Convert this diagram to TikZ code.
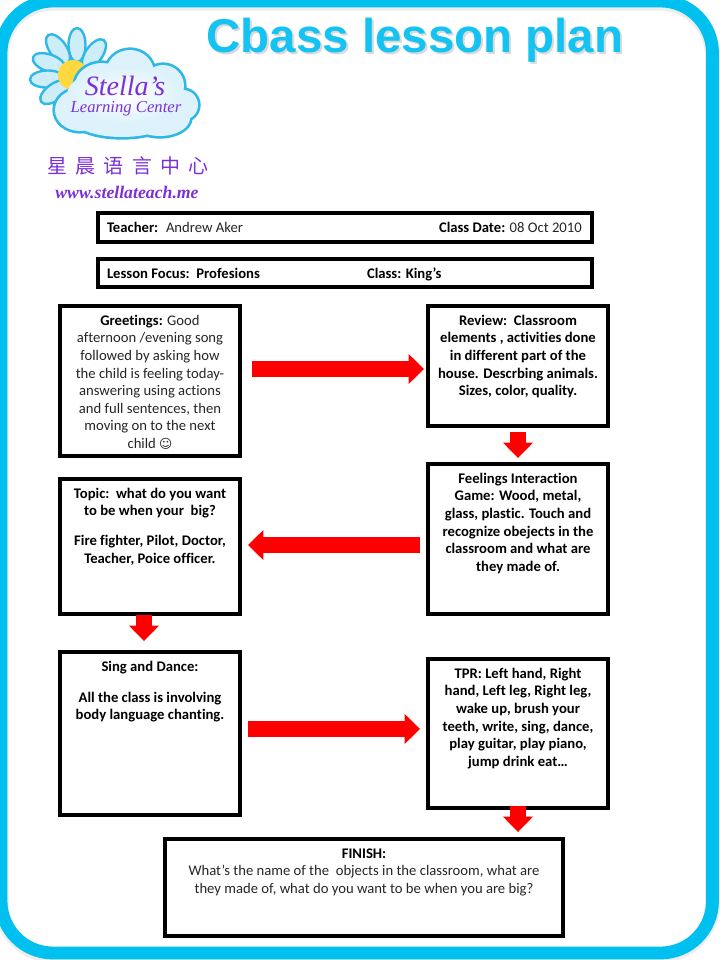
\documentclass[tikz,border=0pt]{standalone}
\usepackage{fontspec}
\setmainfont[Ligatures=NoCommon]{Carlito}
\newfontfamily\titlefont{Liberation Sans}
\newfontfamily\logofont{Liberation Serif}
\newfontfamily\cjkfont{Noto Sans CJK SC}
\newfontfamily\symfont{DejaVu Sans}
\usetikzlibrary{arrows.meta}
\definecolor{frameblue}{HTML}{00C0F0}
\definecolor{titleblue}{HTML}{14C3F2}
\definecolor{logoblue}{HTML}{2FB8E6}
\definecolor{cloudfill}{HTML}{DDF2FB}
\definecolor{petalfill}{HTML}{CDEEF9}
\definecolor{sunyellow}{HTML}{FFD840}
\definecolor{logopurple}{HTML}{7B30D8}
\definecolor{bodytext}{HTML}{262626}
\definecolor{arrowred}{HTML}{FF0000}
\tikzset{
  boxnode/.style={draw=black,fill=white,line width=3pt,inner sep=0pt,outer sep=0pt,text=bodytext},
  flowarrow/.style={draw=arrowred,line width=12pt,-{Triangle[length=11.5pt,width=22.5pt,line width=0pt,fill=arrowred]}},
  petal/.style={draw=logoblue,fill=petalfill,line width=1.8pt},
  cloudedge/.style={draw=logoblue,fill=logoblue,line width=4pt},
  cloudin/.style={fill=cloudfill},
}
\newcommand{\tbox}[6]{%
  \pgfmathsetmacro\cxx{(#2+#4)/2}%
  \pgfmathsetmacro\cyy{(#3+#5)/2}%
  \pgfmathsetmacro\wdd{(#4-#2-4)*0.75}%
  \pgfmathsetmacro\htt{(#5-#3-4)*0.75}%
  \node[boxnode,minimum width=\wdd pt,minimum height=\htt pt] (#1) at (\cxx,\cyy)
    {\parbox[c][\htt pt][t]{\wdd pt}{\fontsize{11}{13.2}\selectfont\centering\vspace*{5.2pt}\strut #6}};%
}
\newcommand{\smileyc}{{\symfont\fontsize{9.5}{13.2}\selectfont\char"263A}}
\newcommand{\bb}[1]{\textbf{\textcolor{black}{#1}}}
\begin{document}
\begin{tikzpicture}[x=0.75pt,y=-0.75pt]
\useasboundingbox (0,0) rectangle (720,960);
\clip (0,0) rectangle (720,960);
% frame
\draw[gray!14,line width=11.5pt,rounded corners=39pt] (1,3) rectangle (712.5,955);
\draw[frameblue,line width=9.6pt,rounded corners=39pt] (1,1) rectangle (712.5,953);
% title
\node[text=gray!30,font=\titlefont\bfseries\fontsize{35.6}{40}\selectfont] at (417,42) {Cbass lesson plan};
\node[text=titleblue,font=\titlefont\bfseries\fontsize{35.6}{40}\selectfont] (title) at (415,40) {Cbass lesson plan};
% logo: petals
\foreach \a/\px/\py in {90/77/45,125/58/49,160/49/63,182/47/79,215/55/92,55/94/54}{
  \draw[petal,rotate around={\a:(\px,\py)}] (\px,\py) ellipse [x radius=17,y radius=8.5];
}
\fill[sunyellow] (73,75) circle (15);
% logo: cloud
\foreach \c/\rx/\ry in {{(80,110)}/25/21,{(102,86)}/27/23,{(130,73)}/24/23,{(163,86)}/21/21,{(183,105)}/15/15,{(160,118)}/30/18,{(122,118)}/50/19}{
  \draw[cloudedge] \c ellipse [x radius=\rx,y radius=\ry];
}
\foreach \c/\rx/\ry in {{(80,110)}/25/21,{(102,86)}/27/23,{(130,73)}/24/23,{(163,86)}/21/21,{(183,105)}/15/15,{(160,118)}/30/18,{(122,118)}/50/19}{
  \fill[cloudin] \c ellipse [x radius=\rx,y radius=\ry];
}
\shade[inner color=white,outer color=cloudfill] (125,95) ellipse [x radius=58,y radius=28];
\node[text=logopurple,font=\logofont\itshape\fontsize{21}{24}\selectfont,inner sep=0pt] (stella) at (125,86) {Stella’s};
\node[text=logopurple,font=\logofont\itshape\fontsize{12.5}{14}\selectfont,inner sep=0pt] (center) at (126,109) {Learning Center};
\node[text=logopurple,font=\cjkfont\fontsize{15}{18}\selectfont,inner sep=0pt] (cjk) at (128,166) {星\hspace{6.2pt}晨\hspace{6.2pt}语\hspace{6.2pt}言\hspace{6.2pt}中\hspace{6.2pt}心};
\node[text=logopurple,font=\logofont\bfseries\itshape\fontsize{13.3}{15}\selectfont,inner sep=0pt] (url) at (127,192) {www.stellateach.me};
% header rows
\tbox{teacher}{96}{211}{594}{244}{\makebox[\linewidth][l]{\hspace*{6.75pt}\makebox[249pt][l]{\makebox[44.25pt][l]{\bb{Teacher:}}Andrew Aker}\bb{Class Date:} 08 Oct 2010}}
\tbox{lesson}{96}{257}{594}{289}{\makebox[\linewidth][l]{\hspace*{6.75pt}\makebox[195pt][l]{\bb{Lesson Focus:\ \ Profesions}}\bb{Class: King’s}}}
% boxes
\tbox{greet}{58}{304}{242}{458}{\bb{Greetings:} Good\\afternoon /evening song\\followed by asking how\\the child is feeling today-\\answering using actions\\and full sentences, then\\moving on to the next\\child \smileyc}
\tbox{review}{426}{304}{610}{428}{\bb{Review:\ \ Classroom}\\\bb{elements , activities done}\\\bb{in different part of the}\\\bb{house. Descrbing animals.}\\\bb{Sizes, color, quality.}}
\tbox{feel}{426}{462}{610}{616}{\bb{Feelings Interaction}\\\bb{Game: Wood, metal,}\\\bb{glass, plastic. Touch and}\\\bb{recognize obejects in the}\\\bb{classroom and what are}\\\bb{they made of.}}
\tbox{topic}{58}{477}{242}{616}{\bb{Topic:\ \ what do you want}\\\bb{to be when your\ \ big?}\\[9pt]\bb{Fire fighter, Pilot, Doctor,}\\\bb{Teacher, Poice officer.}}
\tbox{sing}{58}{650}{242}{817}{\bb{Sing and Dance:}\\[10pt]\bb{All the class is involving}\\\bb{body language chanting.}}
\tbox{tpr}{426}{657}{610}{810}{\bb{TPR: Left hand, Right}\\\bb{hand, Left leg, Right leg,}\\\bb{wake up, brush your}\\\bb{teeth, write, sing, dance,}\\\bb{play guitar, play piano,}\\\bb{jump drink eat…}}
\tbox{finish}{163}{837}{565}{938}{\bb{FINISH:}\\What’s the name of the\ \ objects in the classroom, what are\\they made of, what do you want to be when you are big?}
% connectors
\draw[flowarrow] ([xshift=9pt,yshift=9pt]greet.east) -- ([xshift=-3pt,yshift=-2.25pt]review.west);
\draw[flowarrow] ([yshift=-4.5pt]review.south) -- ([yshift=4.5pt]feel.north);
\draw[flowarrow] ([xshift=-6pt,yshift=-4.5pt]feel.west) -- ([xshift=6pt,yshift=1.125pt]topic.east);
\draw[flowarrow] ([xshift=-4.5pt,yshift=-0.75pt]topic.south) -- ([xshift=-4.5pt,yshift=8.25pt]sing.north);
\draw[flowarrow] ([xshift=6pt,yshift=3.4pt]sing.east) -- ([xshift=-6pt,yshift=3.4pt]tpr.west);
\draw[flowarrow] ([yshift=1.5pt]tpr.south) -- ([xshift=115.5pt,yshift=5.25pt]finish.north);
\end{tikzpicture}
\end{document}
